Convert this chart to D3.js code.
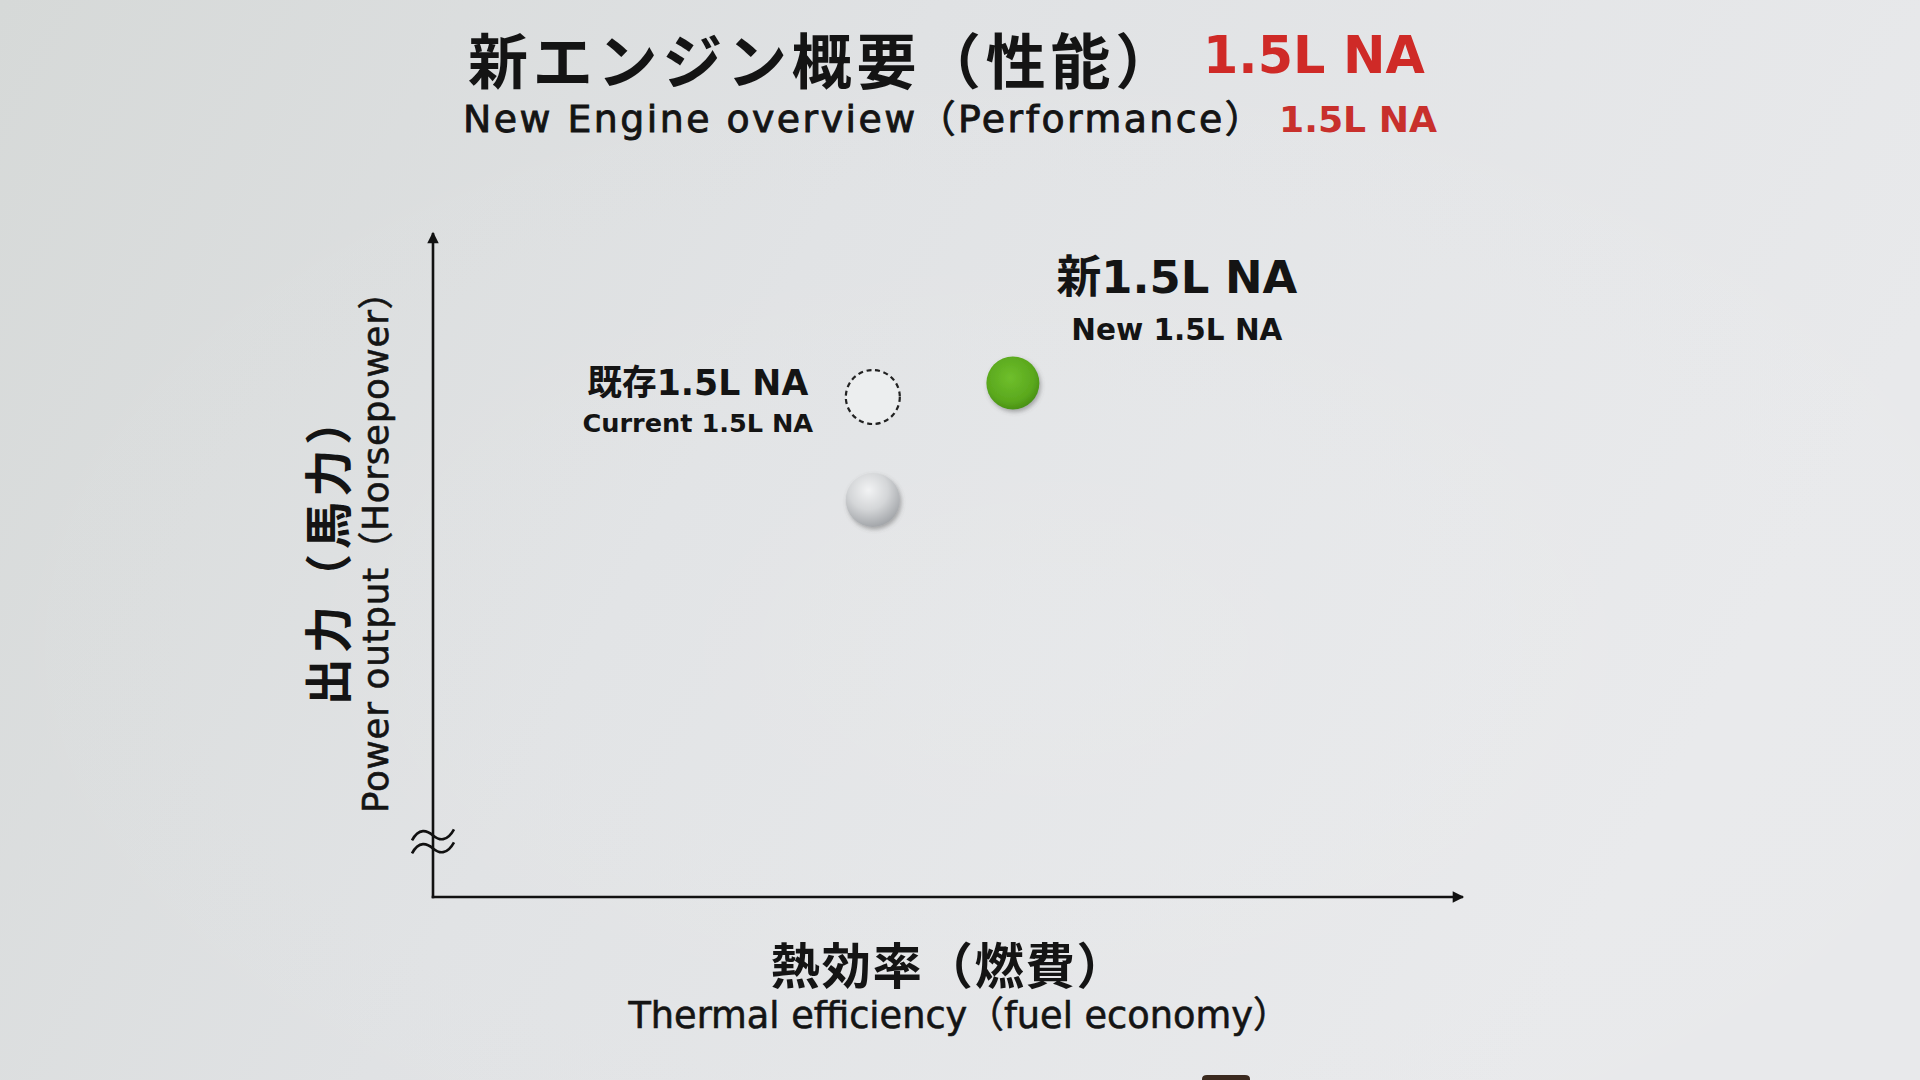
<!DOCTYPE html>
<html>
<head>
<meta charset="utf-8">
<script src="https://cdn.jsdelivr.net/npm/d3@7"></script>
<style>
  html, body { margin: 0; padding: 0; width: 1920px; height: 1080px; overflow: hidden; background: #e1e3e4; }
  svg { display: block; }
  text { font-family: "DejaVu Sans", "Noto Sans CJK JP", sans-serif; fill: #141414; }
  text.cjk { font-family: "Noto Sans CJK JP", "DejaVu Sans", sans-serif; }
</style>
</head>
<body>
<svg id="chart" width="1920" height="1080"></svg>
<script>
// ---------------- data ----------------
const titleJa = "新エンジン概要（性能）";
const titleEn = "New Engine overview（Performance）";
const titleRed = "1.5L NA";
const xLabelJa = "熱効率（燃費）";
const xLabelEn = "Thermal efficiency（fuel economy）";
const yLabelJa = "出力（馬力）";
const yLabelEn = "Power output（Horsepower）";

// point keys, relative thermal-efficiency (x) and power (y) on an unscaled 0–100 axis
const pointKeys   = ["current-outline", "current", "new"];
const pointX      = [42.7, 42.7, 56.3];
const pointY      = [75.3, 59.8, 77.4];
const labelKeys   = ["current-outline", "new"];
const labelsJa    = ["既存1.5L NA", "新1.5L NA"];
const labelsEn    = ["Current 1.5L NA", "New 1.5L NA"];

// ---------------- layout ----------------
const svg = d3.select("#chart");
const W = 1920, H = 1080;
const plot = { left: 433, right: 1463, top: 233, bottom: 897 };

const x = d3.scaleLinear().domain([0, 100]).range([plot.left, plot.right]);
const y = d3.scaleLinear().domain([0, 100]).range([plot.bottom, plot.top]);

const defs = svg.append("defs");
const bg = defs.append("linearGradient").attr("id", "bg").attr("x1", "0").attr("y1", "0").attr("x2", "1").attr("y2", "0.3");
bg.append("stop").attr("offset", "0").attr("stop-color", "#d6d9d8");
bg.append("stop").attr("offset", "0.45").attr("stop-color", "#e0e2e4");
bg.append("stop").attr("offset", "1").attr("stop-color", "#e8e9eb");
const bg2 = defs.append("radialGradient").attr("id", "bg2").attr("cx", "0.55").attr("cy", "0.6").attr("r", "0.6");
bg2.append("stop").attr("offset", "0").attr("stop-color", "#ffffff").attr("stop-opacity", 0.12);
bg2.append("stop").attr("offset", "1").attr("stop-color", "#ffffff").attr("stop-opacity", 0);

const gGreen = defs.append("radialGradient").attr("id", "gGreen").attr("cx", "0.45").attr("cy", "0.4").attr("r", "0.6");
gGreen.append("stop").attr("offset", "0").attr("stop-color", "#6fbf2c");
gGreen.append("stop").attr("offset", "0.75").attr("stop-color", "#5aa81d");
gGreen.append("stop").attr("offset", "1").attr("stop-color", "#4a9214");

const gGray = defs.append("radialGradient").attr("id", "gGray").attr("cx", "0.42").attr("cy", "0.32").attr("r", "0.72");
gGray.append("stop").attr("offset", "0").attr("stop-color", "#f2f3f4");
gGray.append("stop").attr("offset", "0.5").attr("stop-color", "#d4d6d8");
gGray.append("stop").attr("offset", "1").attr("stop-color", "#9ea1a5");

const shadow = defs.append("filter").attr("id", "shadow").attr("x", "-50%").attr("y", "-50%").attr("width", "200%").attr("height", "200%");
shadow.append("feDropShadow").attr("dx", 1.5).attr("dy", 2.5).attr("stdDeviation", 2).attr("flood-color", "#555").attr("flood-opacity", 0.45);

defs.append("marker").attr("id", "arrow").attr("viewBox", "0 0 10 10")
  .attr("refX", 9).attr("refY", 5).attr("markerWidth", 5).attr("markerHeight", 4.4)
  .attr("orient", "auto").attr("markerUnits", "strokeWidth")
  .append("path").attr("d", "M0,0L10,5L0,10Z").attr("fill", "#111");

svg.append("rect").attr("width", W).attr("height", H).attr("fill", "url(#bg)");
svg.append("rect").attr("width", W).attr("height", H).attr("fill", "url(#bg2)");

// fit text to a target width: bounded font scaling, then letter-spacing for the rest
function fit(sel, target, lo = 0.9, hi = 1.1) {
  const n = sel.node();
  let w = n.getComputedTextLength();
  const fs = parseFloat(sel.attr("font-size"));
  const k = Math.max(lo, Math.min(hi, target / w));
  sel.attr("font-size", (fs * k).toFixed(1));
  w = n.getComputedTextLength();
  const chars = Array.from(sel.text()).length;
  const ls = (target - w) / Math.max(1, chars);
  if (Math.abs(ls) > 0.05) sel.attr("letter-spacing", ls.toFixed(2));
}

// ---------------- titles ----------------
const t1 = svg.append("text").attr("class", "cjk").attr("x", 468).attr("y", 57.5)
  .attr("dominant-baseline", "central")
  .attr("font-size", 60).attr("font-weight", 700).text(titleJa);
fit(t1, 712, 1, 1);
const t1r = svg.append("text").attr("x", 1203).attr("y", 73)
  .attr("font-size", 52).attr("font-weight", 700).style("fill", "#cf2a27").text(titleRed);
fit(t1r, 222, 0.9, 1.1);

const t2 = svg.append("text").attr("x", 463).attr("y", 132)
  .attr("font-size", 36).attr("font-weight", 400)
  .attr("stroke", "#141414").attr("stroke-width", 0.9).text(titleEn);
fit(t2, 802, 0.95, 1.05);
const t2r = svg.append("text").attr("x", 1279).attr("y", 132)
  .attr("font-size", 36).attr("font-weight", 700).style("fill", "#c8302c").text(titleRed);
fit(t2r, 158, 0.9, 1.1);

// ---------------- axes ----------------
const xAxis = d3.axisBottom(x).tickValues([]).tickSizeOuter(0);
const yAxis = d3.axisLeft(y).tickValues([]).tickSizeOuter(0);

const gx = svg.append("g").attr("transform", `translate(0,${plot.bottom})`).call(xAxis);
const gy = svg.append("g").attr("transform", `translate(${plot.left},0)`).call(yAxis);
[gx, gy].forEach(g => {
  g.select(".domain").attr("stroke", "#111").attr("stroke-width", 2.6).attr("marker-end", "url(#arrow)");
});
gx.select(".domain").attr("d", `M${plot.left - 1.3},0H${plot.right}`);
gy.select(".domain").attr("d", `M0,${plot.bottom + 1.3}V${plot.top}`);

// axis break mark (≈)
const breakY = y(8.3);
[-6.5, 6.5].forEach(off => {
  const cy = breakY + off;
  svg.append("path")
    .attr("d", `M${plot.left - 21},${cy + 5} C${plot.left - 14},${cy - 8} ${plot.left - 6},${cy - 5} ${plot.left},${cy} S${plot.left + 14},${cy + 7} ${plot.left + 21},${cy - 6}`)
    .attr("fill", "none").attr("stroke", "#111").attr("stroke-width", 2.6);
});

// axis labels
const xl1 = svg.append("text").attr("class", "cjk").attr("x", 949).attr("y", 962)
  .attr("text-anchor", "middle").attr("dominant-baseline", "central")
  .attr("font-size", 47).attr("font-weight", 700).text(xLabelJa);
fit(xl1, 357, 0.95, 1.05);
const xl2 = svg.append("text").attr("x", 959).attr("y", 1028)
  .attr("text-anchor", "middle").attr("font-size", 35).attr("font-weight", 400)
  .attr("stroke", "#141414").attr("stroke-width", 0.6).text(xLabelEn);
fit(xl2, 661, 0.95, 1.05);

const yl1 = svg.append("text").attr("class", "cjk").attr("transform", "translate(325,549) rotate(-90)")
  .attr("text-anchor", "middle").attr("dominant-baseline", "central")
  .attr("font-size", 45).attr("font-weight", 700).text(yLabelJa);
fit(yl1, 313, 0.95, 1.05);
const yl2 = svg.append("text").attr("transform", "translate(388,543) rotate(-90)")
  .attr("text-anchor", "middle").attr("font-size", 34).attr("font-weight", 400)
  .attr("stroke", "#141414").attr("stroke-width", 0.6).text(yLabelEn);
fit(yl2, 540, 0.95, 1.05);

// ---------------- points ----------------
const pts = pointKeys.map((k, i) => ({ key: k, x: pointX[i], y: pointY[i] }));
const styleOf = {
  "current-outline": s => s.attr("r", 27).attr("fill", "#eceeef").attr("stroke", "#222").attr("stroke-width", 2.2).attr("stroke-dasharray", "5 3.6"),
  "current": s => s.attr("r", 27).attr("fill", "url(#gGray)").attr("filter", "url(#shadow)"),
  "new": s => s.attr("r", 26.5).attr("fill", "url(#gGreen)").attr("filter", "url(#shadow)")
};
svg.append("g").selectAll("circle").data(pts).join("circle")
  .attr("cx", d => x(d.x)).attr("cy", d => y(d.y))
  .each(function (d) { styleOf[d.key](d3.select(this)); });

// ---------------- point labels ----------------
const labelLayout = {
  "current-outline": { dx: -175, dy1: -2, dy2: 35, fs1: 33, fs2: 25.5, w1: 221, w2: 231 },
  "new": { dx: 164, dy1: -90, dy2: -43, fs1: 45, fs2: 30, w1: 241, w2: 211 }
};
labelKeys.forEach((k, i) => {
  const p = pts.find(d => d.key === k);
  const L = labelLayout[k];
  const cx = x(p.x) + L.dx, cy = y(p.y);
  const a = svg.append("text").attr("x", cx).attr("y", cy + L.dy1)
    .attr("text-anchor", "middle").attr("font-size", L.fs1).attr("font-weight", 700).text(labelsJa[i]);
  fit(a, L.w1, 0.9, 1.1);
  const b = svg.append("text").attr("x", cx).attr("y", cy + L.dy2)
    .attr("text-anchor", "middle").attr("font-size", L.fs2).attr("font-weight", 700).text(labelsEn[i]);
  fit(b, L.w2, 0.9, 1.1);
});

// small dark object at bottom edge of the photo
svg.append("path").attr("d", "M1202,1080V1079Q1202,1075 1207,1075H1245Q1250,1075 1250,1079V1080Z").attr("fill", "#3b2a1f");
</script>
</body>
</html>
